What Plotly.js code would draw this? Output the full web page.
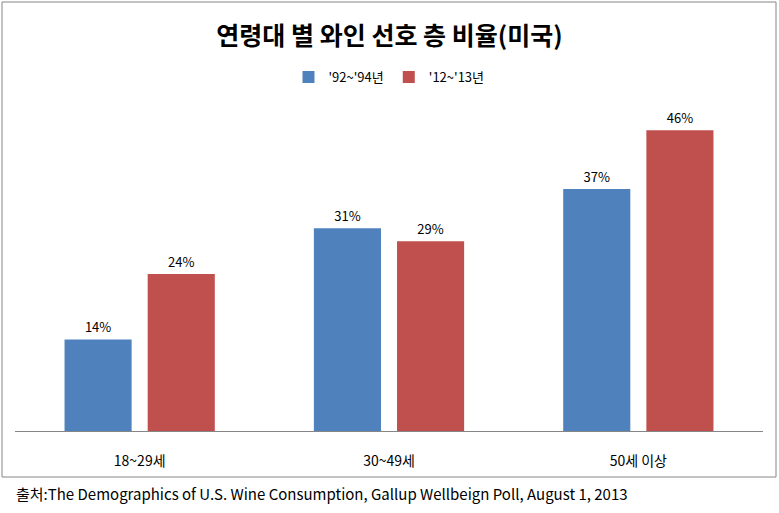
<!DOCTYPE html>
<html>
<head>
<meta charset="utf-8">
<script src="https://cdn.plot.ly/plotly-3.0.1.min.js"></script>
<style>html,body{margin:0;padding:0;background:#fff;}#chart{width:779px;height:513px;}</style>
</head>
<body>
<div id="chart"></div>
<script>
const categories = ['18~29세', '30~49세', '50세 이상'];
const seriesNames = ["'92~'94년", "'12~'13년"];
const values9294 = [14, 31, 37];
const values1213 = [24, 29, 46];
const titleText = '연령대 별 와인 선호 층 비율(미국)';
const sourceText = '출처:The Demographics of U.S. Wine Consumption, Gallup Wellbeign Poll, August 1, 2013';

const font = '"Noto Sans CJK KR", "Noto Sans", sans-serif';
const mk = (name, vals, color) => ({
  type: 'bar', name: name, x: categories, y: vals,
  marker: {color: color},
  text: vals.map(v => v + '%'), textposition: 'outside',
  textfont: {family: font, size: 13, color: '#000'},
  cliponaxis: false, hoverinfo: 'none'
});
const data = [mk(seriesNames[0], values9294, '#4F81BD'), mk(seriesNames[1], values1213, '#C0504D')];

const L = 15, R = 16, T = 104, B = 82;
const pw = 779 - L - R, ph = 513 - T - B;
const px = x => (x - L) / pw;
const py = y => (513 - B - y) / ph;

const layout = {
  width: 779, height: 513,
  margin: {l: L, r: R, t: T, b: B, pad: 0},
  paper_bgcolor: '#fff', plot_bgcolor: '#fff',
  font: {family: font, color: '#000'},
  title: {text: titleText, font: {family: font, size: 25, color: '#000', weight: 'bold'},
          x: 0.5, xanchor: 'center', y: 1 - 36 / 513, yanchor: 'middle'},
  barmode: 'group', bargap: 0.333, bargroupgap: 0.193,
  showlegend: true,
  legend: {orientation: 'h', x: px(389), xanchor: 'center', y: py(77), yanchor: 'middle',
           font: {family: font, size: 13, color: '#000'}, itemwidth: 30, traceorder: 'normal'},
  xaxis: {showline: true, linecolor: '#868686', linewidth: 1, showgrid: false, zeroline: false,
          ticks: 'outside', ticklen: 17, tickcolor: 'rgba(0,0,0,0)',
          tickfont: {family: font, size: 14, color: '#000'}, fixedrange: true},
  yaxis: {visible: false, range: [0, 50], fixedrange: true},
  shapes: [{type: 'rect', xref: 'paper', yref: 'paper', x0: px(2), x1: px(776), y0: py(477), y1: py(2),
            line: {color: '#868686', width: 1}, fillcolor: 'rgba(0,0,0,0)', layer: 'below'}],
  annotations: [{text: sourceText, xref: 'paper', yref: 'paper', x: px(14), y: py(493),
                 xanchor: 'left', yanchor: 'middle', showarrow: false,
                 font: {family: font, size: 15, color: '#000'}}]
};
Plotly.newPlot('chart', data, layout, {displayModeBar: false, staticPlot: true});
</script>
</body>
</html>
